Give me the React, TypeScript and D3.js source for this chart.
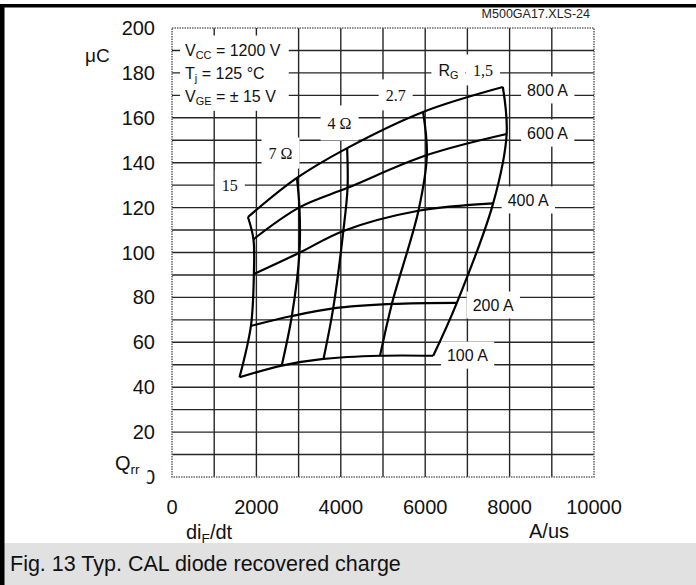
import React, { useEffect, useRef } from "react";
import * as d3 from "d3";

// ---- data ----
const xTicks = [0, 2000, 4000, 6000, 8000, 10000];
const yTicks = [0, 20, 40, 60, 80, 100, 120, 140, 160, 180, 200];

// gate resistance order: 15, 7, 4, 2.7, 1.5 ohm
const resistanceLabels = ["15", "7 Ω", "4 Ω", "2.7", "1,5"];
const currentLabels = ["800 A", "600 A", "400 A", "200 A", "100 A"];

const didt800 = [1800, 2960, 4150, 5950, 7840];
const qrr800 = [115.8, 133.2, 146.5, 162.6, 173.7];
const didt600 = [1930, 3020, 4160, 6040, 7930];
const qrr600 = [105.9, 120.1, 128.8, 143.4, 152.8];
const didt400 = [1940, 3020, 4060, 5840, 7610];
const qrr400 = [90.4, 99.9, 109.6, 118.6, 121.9];
const didt200 = [1870, 2840, 3820, 5210, 6750];
const qrr200 = [67.3, 71.7, 75.1, 77.1, 77.6];
const didt100 = [1600, 2600, 3590, 4930, 6190];
const qrr100 = [44.4, 49.6, 52.6, 54.0, 54.0];

// label anchors (data coordinates)
const resLabelX = [1370, 2570, 3970, 5300, 7370];
const resLabelY = [130, 144.3, 157.7, 170.2, 181.3];
const curLabelX = [8900, 8900, 8440, 7610, 7000];
const curLabelY = [172.4, 153.2, 123.4, 76.6, 54.3];
const rgLabel = [6550, 181.3];
const conditionLines = [
  [["V", false], ["CC", true], [" = 1200 V", false]],
  [["T", false], ["j", true], [" = 125 °C", false]],
  [["V", false], ["GE", true], [" = ± 15 V", false]],
];
const conditionX = 310;
const conditionY = [190.2, 180, 169.7];

const caption = "Fig. 13 Typ. CAL diode recovered charge";
const fileId = "M500GA17.XLS-24";

const SANS = "'Liberation Sans', Arial, Helvetica, sans-serif";
const SERIF = "'Liberation Serif', 'Times New Roman', serif";

export default function App() {
  const ref = useRef<SVGSVGElement>(null);

  useEffect(() => {
    const svg = d3.select(ref.current);
    svg.selectAll("*").remove();

    const W = 696, H = 585;
    const x = d3.scaleLinear().domain([0, 10000]).range([172, 594]);
    const y = d3.scaleLinear().domain([0, 200]).range([477, 28]);

    svg.append("rect").attr("width", W).attr("height", H).attr("fill", "#fff");

    // caption band and frame
    svg.append("rect").attr("x", 0).attr("y", 543).attr("width", W).attr("height", H - 543).attr("fill", "#e1e1e1");
    svg.append("rect").attr("x", 0).attr("y", 4).attr("width", W).attr("height", 3.5).attr("fill", "#000");
    svg.append("rect").attr("x", 0).attr("y", 4).attr("width", 4.5).attr("height", H - 4).attr("fill", "#000");

    // grid
    const grid = svg.append("g").attr("stroke", "#262626").attr("stroke-width", 1.4);
    d3.range(1000, 10000, 1000).forEach((v) => {
      grid.append("line").attr("x1", x(v)).attr("x2", x(v)).attr("y1", y(0)).attr("y2", y(200));
    });
    d3.range(10, 200, 10).forEach((v) => {
      grid.append("line").attr("x1", x(0)).attr("x2", x(10000)).attr("y1", y(v)).attr("y2", y(v));
    });
    svg.append("rect")
      .attr("x", x(0)).attr("y", y(200))
      .attr("width", x(10000) - x(0)).attr("height", y(0) - y(200))
      .attr("fill", "none").attr("stroke", "#6a6a6a").attr("stroke-width", 1.6)
      .attr("stroke-dasharray", "1.5,1");

    // tick labels
    svg.append("g").selectAll("text").data(yTicks).join("text")
      .attr("x", 155).attr("y", (d) => y(d))
      .attr("text-anchor", "end").attr("dominant-baseline", "central")
      .attr("font-family", SANS).attr("font-size", 20).attr("fill", "#111")
      .text((d) => String(d));
    svg.append("g").selectAll("text").data(xTicks).join("text")
      .attr("x", (d) => x(d)).attr("y", 507)
      .attr("text-anchor", "middle").attr("dominant-baseline", "central")
      .attr("font-family", SANS).attr("font-size", 20).attr("fill", "#111")
      .text((d) => String(d));

    // curves
    const series: [number, number][][] = [];
    const didts = [didt800, didt600, didt400, didt200, didt100];
    const qrrs = [qrr800, qrr600, qrr400, qrr200, qrr100];
    didts.forEach((dd, i) => series.push(dd.map((v, j) => [v, qrrs[i][j]])));
    resistanceLabels.forEach((_, j) => series.push(didts.map((dd, i) => [dd[j], qrrs[i][j]])));
    const line = d3.line<[number, number]>()
      .x((d) => x(d[0])).y((d) => y(d[1]))
      .curve(d3.curveCatmullRom.alpha(0.5));
    svg.append("g").selectAll("path").data(series).join("path")
      .attr("d", (d) => line(d))
      .attr("fill", "none").attr("stroke", "#000").attr("stroke-width", 2.2)
      .attr("stroke-linejoin", "round");

    // label helper with white box
    type Seg = [string, boolean];
    const addLabel = (
      segs: Seg[], px: number, py: number, font: string, size: number,
      anchor: string, padX: number, padY: number, padRight?: number
    ) => {
      const g = svg.append("g");
      const t = g.append("text")
        .attr("x", px).attr("y", py)
        .attr("text-anchor", anchor).attr("dominant-baseline", "central")
        .attr("font-family", font).attr("font-size", size).attr("fill", "#111");
      let shifted = false;
      segs.forEach(([s, sub]) => {
        const ts = t.append("tspan").text(s);
        if (sub) {
          ts.attr("font-size", size * 0.68);
          if (!shifted) ts.attr("dy", size * 0.3);
          shifted = true;
        } else {
          if (shifted) ts.attr("dy", -size * 0.3);
          shifted = false;
        }
      });
      const bb = (t.node() as SVGTextElement).getBBox();
      if (padX >= 0) {
        const pr = padRight ?? padX;
        g.insert("rect", "text")
          .attr("x", bb.x - padX).attr("y", bb.y - padY)
          .attr("width", bb.width + padX + pr).attr("height", bb.height + 2 * padY)
          .attr("fill", "#fff");
      }
      return bb;
    };

    // conditions block: single white box
    const condG = svg.append("g");
    const condRect = condG.append("rect").attr("fill", "#fff");
    const boxes: DOMRect[] = [];
    conditionLines.forEach((segs, i) => {
      const t = condG.append("text")
        .attr("x", x(conditionX)).attr("y", y(conditionY[i]))
        .attr("dominant-baseline", "central")
        .attr("font-family", SANS).attr("font-size", 16).attr("fill", "#111");
      let shifted = false;
      (segs as Seg[]).forEach(([s, sub]) => {
        const ts = t.append("tspan").text(s);
        if (sub) {
          ts.attr("font-size", 16 * 0.68);
          if (!shifted) ts.attr("dy", 16 * 0.3);
          shifted = true;
        } else {
          if (shifted) ts.attr("dy", -16 * 0.3);
          shifted = false;
        }
      });
      boxes.push((t.node() as SVGTextElement).getBBox());
    });
    const bx0 = d3.min(boxes, (b) => b.x)! - 5;
    const bx1 = d3.max(boxes, (b) => b.x + b.width)! + 8;
    const by0 = d3.min(boxes, (b) => b.y)! - 6;
    const by1 = d3.max(boxes, (b) => b.y + b.height)! + 4;
    condRect.attr("x", bx0).attr("y", by0).attr("width", bx1 - bx0).attr("height", by1 - by0);

    // resistance labels
    resistanceLabels.forEach((s, j) => {
      const padY = j === 2 ? 9 : 7;
      addLabel([[s, false]], x(resLabelX[j]), y(resLabelY[j]), SERIF, 16, "middle", 7, padY);
    });
    addLabel([["R", false], ["G", true]], x(rgLabel[0]), y(rgLabel[1]), SANS, 16, "middle", 7, 6);
    // current labels
    currentLabels.forEach((s, i) => {
      addLabel([[s, false]], x(curLabelX[i]), y(curLabelY[i]), SANS, 16, "middle", 6, 5);
    });

    // axis titles (Q_rr box partly hides the "0" tick label, as in the reference)
    addLabel([["μC", false]], 85, 55, SANS, 19, "start", -1, 0);
    addLabel([["Q", false], ["rr", true]], 115, 463, SANS, 20, "start", 5, 6, 7.5);
    addLabel([["di", false], ["F", true], ["/dt", false]], 186, 532, SANS, 20, "start", -1, 0);
    addLabel([["A/us", false]], 549, 531, SANS, 20, "middle", -1, 0);

    // file id and caption
    svg.append("text").attr("x", 590).attr("y", 14)
      .attr("text-anchor", "end").attr("dominant-baseline", "central")
      .attr("font-family", SANS).attr("font-size", 12.5).attr("fill", "#222")
      .text(fileId);
    svg.append("text").attr("x", 10).attr("y", 564)
      .attr("dominant-baseline", "central")
      .attr("font-family", SANS).attr("font-size", 21.5).attr("fill", "#111")
      .text(caption);
  }, []);

  return (
    <svg
      ref={ref}
      width={696}
      height={585}
      style={{ position: "absolute", left: 0, top: 0, display: "block" }}
    />
  );
}
